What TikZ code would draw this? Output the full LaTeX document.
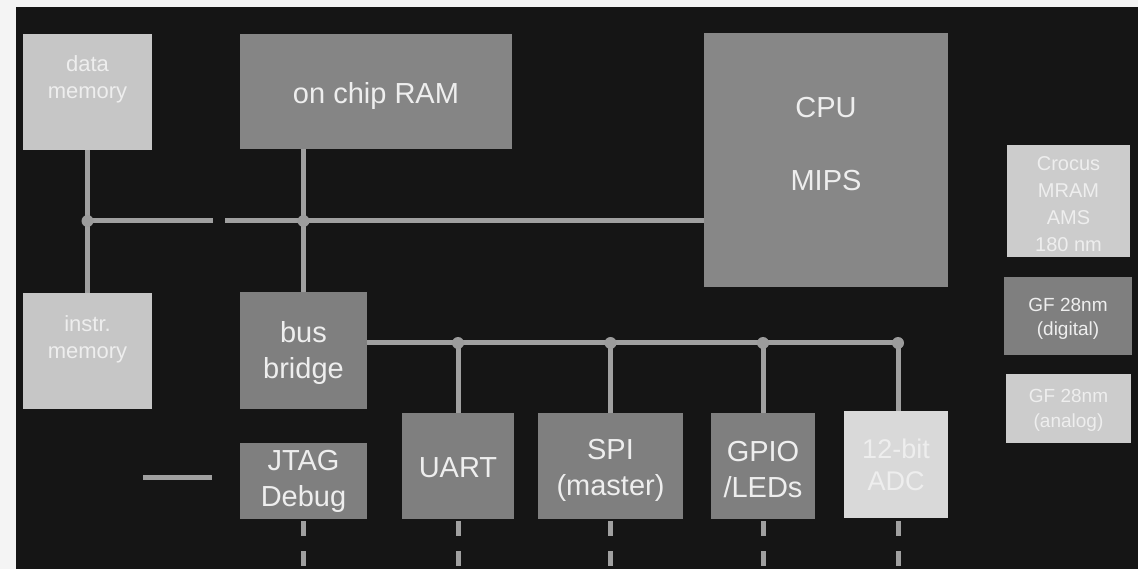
\documentclass[tikz,border=0pt]{standalone}
\usepackage{fontspec}
\setmainfont{Liberation Sans}
\definecolor{bgc}{HTML}{151515}
\definecolor{stripc}{HTML}{F4F4F4}
\definecolor{lightc}{HTML}{C6C6C6}
\definecolor{adcc}{HTML}{D9D9D9}
\definecolor{grayc}{HTML}{7F7F7F}
\definecolor{cpuc}{HTML}{878787}
\definecolor{busc}{HTML}{A0A0A0}
\definecolor{dotc}{HTML}{9C9C9C}
\definecolor{txtc}{HTML}{EEEEEE}
\begin{document}
\begin{tikzpicture}[x=1pt,y=-1pt,
  blk/.style={draw=none,inner sep=0pt,outer sep=0pt},
  lightblk/.style={blk,fill=lightc},
  grayblk/.style={blk,fill=grayc},
  txt/.style={text=txtc,align=center,inner sep=0pt},
  bigtxt/.style={txt,font=\fontsize{29}{36}\selectfont},
  midtxt/.style={txt,font=\fontsize{22}{27}\selectfont},
  smalltxt/.style={txt,font=\fontsize{20}{26}\selectfont},
  bus/.style={draw=busc,line width=5pt},
  stub/.style={bus,dash pattern=on 15pt off 15pt},
  jdot/.style={fill=dotc,draw=none}]
\useasboundingbox (0,0) rectangle (1138,569);
\fill[stripc] (0,0) rectangle (1138,569);
\fill[bgc] (16,7) rectangle (1138,569);

% blocks
\node[lightblk,minimum width=129pt,minimum height=116pt] (dmem) at (87.5,92) {};
\node[grayblk,fill=grayc!95!white,minimum width=272pt,minimum height=115pt] (ram) at (376,91.5) {};
\node[blk,fill=cpuc,minimum width=244pt,minimum height=254pt] (cpu) at (826,160) {};
\node[lightblk,minimum width=129pt,minimum height=116pt] (imem) at (87.5,351) {};
\node[grayblk,minimum width=127pt,minimum height=117pt] (bridge) at (303.5,350.5) {};
\node[grayblk,minimum width=127pt,minimum height=76pt] (jtag) at (303.5,481) {};
\node[grayblk,minimum width=112pt,minimum height=106pt] (uart) at (458,466) {};
\node[grayblk,minimum width=145pt,minimum height=106pt] (spi) at (610.5,466) {};
\node[grayblk,minimum width=104pt,minimum height=106pt] (gpio) at (763,466) {};
\node[blk,fill=adcc,minimum width=104pt,minimum height=107pt] (adc) at (896,464.5) {};
\node[lightblk,fill=lightc!90!white,minimum width=123pt,minimum height=112pt] (crocus) at (1068.5,201) {};
\node[grayblk,minimum width=128pt,minimum height=78pt] (gfd) at (1068,316) {};
\node[lightblk,fill=lightc!90!white,minimum width=125pt,minimum height=69pt] (gfa) at (1068.5,408.5) {};

% texts
\node[midtxt] (tdmem) at ([yshift=12.5pt]dmem.center) {data\\memory};
\node[bigtxt] (tram) at ([yshift=-5pt]ram.center) {on chip RAM};
\node[bigtxt] (tcpu) at ([yshift=16pt]cpu.center) {CPU\\[37pt]MIPS};
\node[midtxt] (timem) at ([yshift=11.5pt]imem.center) {instr.\\memory};
\node[bigtxt] (tbridge) at ([yshift=-3pt]bridge.center) {bus\\bridge};
\node[bigtxt] (tjtag) at ([yshift=-0.5pt]jtag.center) {JTAG\\Debug};
\node[bigtxt] (tuart) at ([yshift=-2pt]uart.center) {UART};
\node[bigtxt] (tspi) at ([yshift=-4pt]spi.center) {SPI\\(master)};
\node[bigtxt] (tgpio) at ([yshift=-4pt]gpio.center) {GPIO\\/LEDs};
\node[bigtxt,font=\fontsize{27}{32}\selectfont] (tadc) at ([yshift=-0.5pt]adc.center) {12-bit\\ADC};
\node[smalltxt,font=\fontsize{20}{27}\selectfont] (tcrocus) at ([yshift=-3pt]crocus.center) {Crocus\\MRAM\\AMS\\180 nm};
\node[smalltxt,font=\fontsize{19}{24}\selectfont] (tgfd) at ([yshift=-2.5pt]gfd.center) {GF 28nm\\(digital)};
\node[smalltxt,font=\fontsize{19}{25}\selectfont] (tgfa) at ([yshift=-1.5pt]gfa.center) {GF 28nm\\(analog)};

% upper bus
\coordinate (j1) at (87.5,221);
\coordinate (g1) at (213,221);
\coordinate (g2) at (225,221);
\coordinate (j2) at (303.5,221);
\draw[bus] (dmem.south) -- (imem.north);
\draw[bus] (j1) -- (g1);
\draw[bus] (g2) -- (j2 -| cpu.west);
\draw[bus] (bridge.north) -- (bridge.north |- ram.south);
\fill[jdot] (j1) circle (6pt);
\fill[jdot] (j2) circle (6pt);

% peripheral bus
\coordinate (bstart) at ([yshift=7.5pt]bridge.east);
\coordinate (k1) at (uart.north |- bstart);
\coordinate (k2) at (spi.north |- bstart);
\coordinate (k3) at (gpio.north |- bstart);
\coordinate (k4) at ([xshift=2pt]adc.north |- bstart);
\draw[bus] (bstart) -- (k4);
\draw[bus] (k1) -- (uart.north);
\draw[bus] (k2) -- (spi.north);
\draw[bus] (k3) -- (gpio.north);
\draw[bus] (k4) -- ([xshift=2pt]adc.north);
\foreach \k in {k1,k2,k3,k4} \fill[jdot] (\k) circle (6pt);

% JTAG stub
\coordinate (t1) at (143,477);
\coordinate (t2) at (212,477);
\draw[bus] (t1) -- (t2);

% dashed stubs below
\foreach \b in {jtag,uart,spi,gpio} \draw[stub] ([yshift=-2pt]\b.south) -- (\b.south |- 0,569);
\draw[stub] ([xshift=2pt,yshift=-3pt]adc.south) -- ([xshift=2pt]adc.south |- 0,569);
\end{tikzpicture}
\end{document}
